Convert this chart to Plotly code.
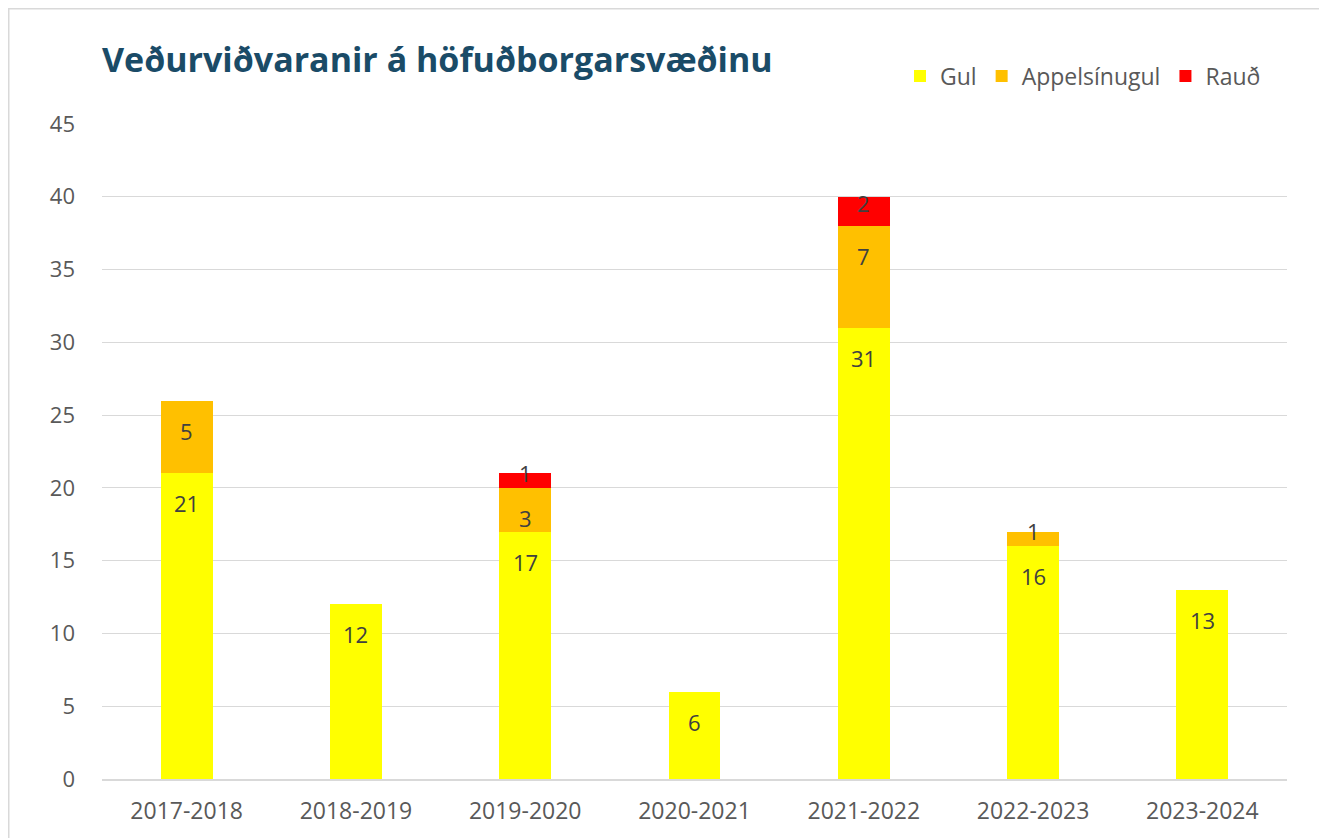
import plotly.graph_objects as go

seasons = ["2017-2018", "2018-2019", "2019-2020", "2020-2021", "2021-2022", "2022-2023", "2023-2024"]
gul = [21, 12, 17, 6, 31, 16, 13]
appelsinugul = [5, 0, 3, 0, 7, 1, 0]
raud = [0, 0, 1, 0, 2, 0, 0]

series = [
    ("Gul", gul, "#FFFF00"),
    ("Appelsínugul", appelsinugul, "#FFC000"),
    ("Rauð", raud, "#FF0000"),
]

title_text = "Veðurviðvaranir á höfuðborgarsvæðinu"
y_ticks = [0, 5, 10, 15, 20, 25, 30, 35, 40, 45]

FONT = "Open Sans"
W, H = 1319, 830
L, R, T, B = 94, 40, 116, 59
fig = go.Figure()
for name, vals, color in series:
    fig.add_trace(go.Bar(
        x=seasons, y=vals, name=name,
        marker=dict(color=color, line=dict(width=0)),
        hoverinfo="x+y+name",
    ))

# data labels (Excel "inside end" style)
annotations = []
base = [0] * len(seasons)
for name, vals, color in series:
    for j, v in enumerate(vals):
        if v > 0:
            top = base[j] + v
            if v >= 3:
                annotations.append(dict(x=seasons[j], y=top, xref="x", yref="y", text=str(v),
                                        showarrow=False, yanchor="middle", yshift=-30,
                                        font=dict(family=FONT, size=22, color="#404040")))
            else:
                annotations.append(dict(x=seasons[j], y=base[j] + v / 2, xref="x", yref="y", text=str(v),
                                        showarrow=False, yanchor="middle", yshift=8,
                                        font=dict(family=FONT, size=22, color="#404040")))
        base[j] += v

pw = W - L - R
ph = H - T - B
fig.update_layout(
    barmode="stack",
    bargap=0.693,
    width=W, height=H,
    margin=dict(l=L, r=R, t=T, b=B, autoexpand=False),
    paper_bgcolor="white", plot_bgcolor="white",
    title=dict(text="<b>" + title_text + "</b>", x=0, xref="paper", xanchor="left",
               y=1 - 52 / H, yref="container", yanchor="middle",
               font=dict(family=FONT, size=34, color="#1A4B67")),
    legend=dict(orientation="h", x=(1266 - 8 - L) / pw, xanchor="right",
                y=1 + (T - 68) / ph, yanchor="middle",
                font=dict(family=FONT, size=23, color="#595959"),
                itemwidth=30, traceorder="normal", bgcolor="rgba(0,0,0,0)"),
    xaxis=dict(type="category", showgrid=False, showline=True, linecolor="#D9D9D9", linewidth=1.5,
               tickfont=dict(family=FONT, size=23, color="#595959"), ticks="", ticklabelstandoff=11),
    yaxis=dict(range=[0, 45], tickvals=y_ticks, showgrid=True, gridcolor="#D9D9D9", gridwidth=1.3,
               zeroline=False, showline=False,
               tickfont=dict(family=FONT, size=22, color="#595959"), ticks="", ticklabelstandoff=26),
    annotations=annotations,
    font=dict(family=FONT),
    shapes=[dict(type="rect", xref="paper", yref="paper",
                 x0=(0.5 - L) / pw, x1=1.2, y0=-0.3, y1=1 + (T - 0.5) / ph,
                 line=dict(color="#D9D9D9", width=2), fillcolor="rgba(0,0,0,0)", layer="below")],
)

fig.write_html("out.html")
